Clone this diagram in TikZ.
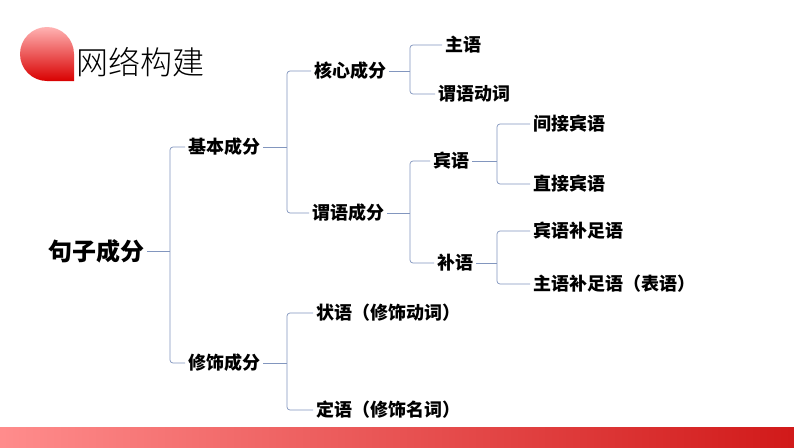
\documentclass[tikz,border=0pt]{standalone}
\usepackage{fontspec}
\newfontfamily\cjk{Noto Sans CJK SC}
\newfontfamily\cjkl{Noto Sans CJK SC Light}
\definecolor{lc}{RGB}{130,150,190}
\begin{document}
\begin{tikzpicture}[x=1pt,y=-1pt,
  t/.style={font=\cjk\fontsize{18}{18}\selectfont\bfseries,anchor=west,inner sep=3pt},
  br/.style={draw=lc,line width=0.7pt,rounded corners=3pt}]
\useasboundingbox (0,0) rectangle (794,447);
\fill[white] (0,0) rectangle (794,447);
\shade[left color=red!45!white, right color=red!80!black!90] (0,427) rectangle (794,447);
\shade[top color=red!30!white, bottom color=red!85!black] (74,54) -- (74,81) -- (47,81) arc[start angle=90,end angle=360,radius=27] -- cycle;
\node[font=\cjkl\fontsize{32}{32}\selectfont,anchor=west,inner sep=0pt] (title) at (76,62) {网络构建};
\node[font=\cjk\fontsize{24}{24}\selectfont\bfseries,anchor=west,inner sep=3pt] (root) at (45,251) {句子成分};
\node[t] (jb) at (185,147) {基本成分};
\node[t] (xs) at (185,363) {修饰成分};
\node[t] (hx) at (311,71) {核心成分};
\node[t] (wy) at (309,213) {谓语成分};
\node[t] (zy) at (442,45) {主语};
\node[t] (wd) at (435,94) {谓语动词};
\node[t] (by) at (430,161) {宾语};
\node[t] (bu) at (434,263) {补语};
\node[t] (jj) at (530,124) {间接宾语};
\node[t] (zj) at (530,184) {直接宾语};
\node[t] (bb) at (530,231) {宾语补足语};
\node[t] (zb) at (530,284) {主语补足语（表语）};
\node[t] (zhy) at (313,313) {状语（修饰动词）};
\node[t] (dy) at (313,410) {定语（修饰名词）};
\foreach \p/\a/\b/\xb in {root/jb/xs/170, jb/hx/wy/287, hx/zy/wd/410, wy/by/bu/410, by/jj/zj/497, bu/bb/zb/497, xs/zhy/dy/287}{
  \draw[br] (\p.east) -- (\p.east -| \xb,0);
  \draw[br] (\a.west) -- (\a.west -| \xb,0) -- (\b.west -| \xb,0) -- (\b.west);
}
\end{tikzpicture}
\end{document}
